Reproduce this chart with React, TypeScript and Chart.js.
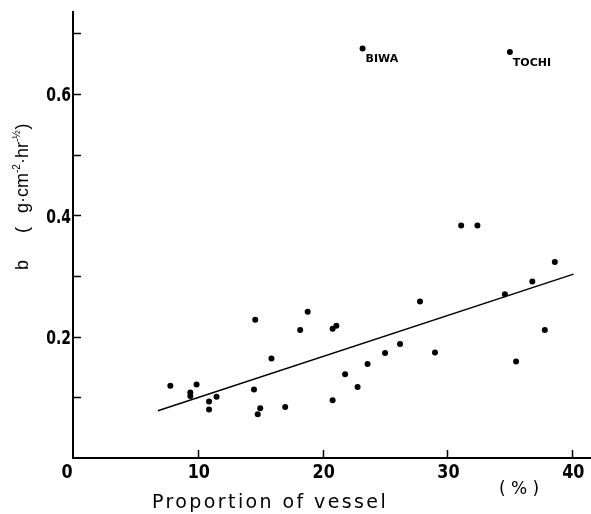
import React, { useEffect, useRef } from 'react';
import { Chart, registerables } from 'chart.js';

Chart.register(...registerables);

// Proportion of vessel (%) and b (g·cm⁻²·hr⁻½)
const vesselPct = [7.8, 9.9, 9.4, 9.4, 10.9, 10.9, 11.5, 14.6, 14.5, 15.0, 14.8, 15.9, 17.0, 18.2, 18.8, 20.8, 21.1, 20.8, 21.8, 22.8, 23.6, 25.0, 26.2, 27.8, 29.0, 31.1, 32.4, 34.6, 35.5, 36.8, 37.8, 38.6, 23.2, 35.0];
const bValues = [0.119, 0.121, 0.108, 0.102, 0.093, 0.080, 0.101, 0.228, 0.113, 0.082, 0.072, 0.164, 0.084, 0.211, 0.241, 0.213, 0.218, 0.095, 0.138, 0.117, 0.155, 0.173, 0.188, 0.258, 0.174, 0.383, 0.383, 0.270, 0.159, 0.291, 0.211, 0.323, 0.675, 0.669];

// fitted regression line
const fitX = [6.8, 40.1];
const fitY = [0.078, 0.303];

// named outliers
const labelNames = ['BIWA', 'TOCHI'];
const labelX = [23.2, 35.0];
const labelY = [0.675, 0.669];

// ticks
const xTickLabels = ['0', '10', '20', '30', '40'];
const yTickLabels = ['0.2', '0.4', '0.6'];
const yMinorTicks = [0.1, 0.2, 0.3, 0.4, 0.5, 0.6, 0.7];
const xMarkTicks = [10, 20, 30, 40];

const xTitle = 'Proportion of vessel';
const xUnit = '( % )';

const TICK_FONT = "bold 20px 'DejaVu Sans', sans-serif";

const decorPlugin = {
  id: 'decor',
  afterDraw(chart: any) {
    const { ctx, scales, chartArea } = chart;
    const x = scales.x;
    const y = scales.y;
    ctx.save();
    ctx.strokeStyle = '#000';
    ctx.lineWidth = 1.5;
    // inward tick marks
    yMinorTicks.forEach((v) => {
      const py = Math.round(y.getPixelForValue(v)) + 0.5;
      ctx.beginPath();
      ctx.moveTo(chartArea.left, py);
      ctx.lineTo(chartArea.left + 8, py);
      ctx.stroke();
    });
    xMarkTicks.forEach((v) => {
      const px = Math.round(x.getPixelForValue(v)) + 0.5;
      ctx.beginPath();
      ctx.moveTo(px, chartArea.bottom);
      ctx.lineTo(px, chartArea.bottom - 8);
      ctx.stroke();
    });

    ctx.fillStyle = '#000';
    ctx.textBaseline = 'alphabetic';

    // condensed bold tick labels
    ctx.font = TICK_FONT;
    yTickLabels.forEach((lbl) => {
      const py = y.getPixelForValue(parseFloat(lbl));
      ctx.save();
      ctx.translate(chartArea.left - 2, py + 7.5);
      ctx.scale(0.7, 1);
      ctx.textAlign = 'right';
      ctx.fillText(lbl, 0, 0);
      ctx.restore();
    });
    xTickLabels.forEach((lbl) => {
      const v = parseFloat(lbl);
      const px = x.getPixelForValue(v) + (v === 0 ? -6 : 1);
      ctx.save();
      ctx.translate(px, chartArea.bottom + 20);
      ctx.scale(0.8, 1);
      ctx.textAlign = 'center';
      ctx.fillText(lbl, 0, 0);
      ctx.restore();
    });

    // point labels
    ctx.font = "bold 11px 'DejaVu Sans', sans-serif";
    ctx.textAlign = 'left';
    labelNames.forEach((name, i) => {
      const px = x.getPixelForValue(labelX[i]);
      const py = y.getPixelForValue(labelY[i]);
      ctx.fillText(name, px + 3, py + 14);
    });

    // x title
    ctx.font = "19px 'DejaVu Sans', sans-serif";
    (ctx as any).letterSpacing = '2.4px';
    ctx.fillText(xTitle, 152, 508);
    ctx.font = "17px 'DejaVu Sans', sans-serif";
    (ctx as any).letterSpacing = '0px';
    ctx.fillText(xUnit, 499, 494);

    // y title (rotated)
    ctx.translate(28, 270);
    ctx.rotate(-Math.PI / 2);
    const big = "18px 'Liberation Sans', Arial, sans-serif";
    const small = "10px 'Liberation Sans', Arial, sans-serif";
    let cx = 0;
    const seg = (t: string, f: string, dy: number, gapAfter = 0) => {
      ctx.font = f;
      ctx.fillText(t, cx, dy);
      cx += ctx.measureText(t).width + gapAfter;
    };
    seg('b', big, 0);
    cx = 37;
    seg('(', big, 0);
    cx = 57;
    seg('g·cm', big, 0);
    seg('-2', small, -8);
    seg('·hr', big, 0);
    seg('-½', small, -8, 1);
    seg(')', big, 0);
    ctx.restore();
  },
};

export default function App() {
  const ref = useRef<HTMLCanvasElement | null>(null);
  useEffect(() => {
    document.body.style.margin = '0';
    const canvas = ref.current!;
    const points = vesselPct.map((v, i) => ({ x: v, y: bValues[i] }));
    const fit = fitX.map((v, i) => ({ x: v, y: fitY[i] }));
    const chart = new Chart(canvas, {
      type: 'scatter',
      data: {
        datasets: [
          {
            data: points,
            pointRadius: 3,
            pointBackgroundColor: '#000',
            pointBorderWidth: 0,
            showLine: false,
          },
          {
            data: fit,
            showLine: true,
            pointRadius: 0,
            borderColor: '#000',
            borderWidth: 1.5,
          },
        ],
      },
      options: {
        responsive: false,
        animation: false,
        events: [],
        layout: { autoPadding: false, padding: { top: 12, right: 0, left: 0, bottom: 0 } },
        plugins: { legend: { display: false }, tooltip: { enabled: false } },
        scales: {
          x: {
            type: 'linear',
            min: 0,
            max: 41.5,
            afterFit: (s: any) => { s.height = 56; },
            grid: { display: false, drawTicks: false },
            border: { display: true, color: '#000', width: 2 },
            ticks: { display: false, stepSize: 10, includeBounds: false },
          },
          y: {
            type: 'linear',
            min: 0,
            max: 0.735,
            afterFit: (s: any) => { s.width = 73; },
            grid: { display: false, drawTicks: false },
            border: { display: true, color: '#000', width: 2 },
            ticks: { display: false, stepSize: 0.1, includeBounds: false },
          },
        },
      },
      plugins: [decorPlugin],
    } as any);
    return () => chart.destroy();
  }, []);
  return <canvas ref={ref} width={591} height={514} style={{ display: 'block' }} />;
}
